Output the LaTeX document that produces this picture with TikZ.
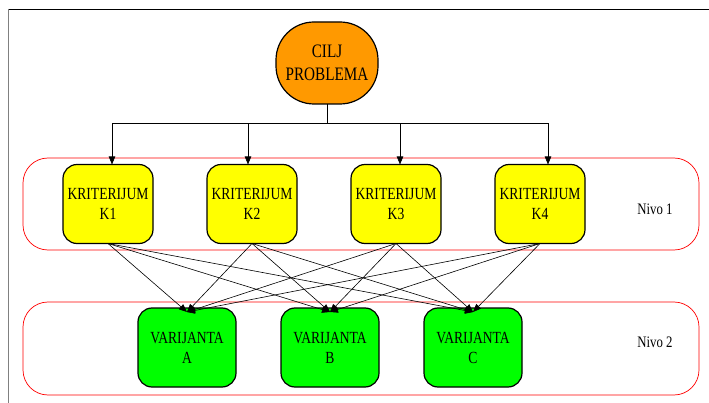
\documentclass[tikz,border=0pt]{standalone}
\usepackage{fontspec}
\setmainfont{Liberation Serif}[FakeStretch=0.8]
\usepackage{xcolor}
\usepackage{tikz}
\usetikzlibrary{positioning}
\usetikzlibrary{arrows.meta}
\definecolor{ciljorange}{HTML}{FF9900}
\definecolor{krityellow}{HTML}{FFFF00}
\definecolor{vargreen}{HTML}{00FF00}
\begin{document}
\begin{tikzpicture}[x=1pt,y=-1pt,outer sep=0pt,
  box/.style={draw, line width=1.2pt, align=center, rounded corners=14pt, inner sep=0pt,
    font=\fontsize{17}{20}\selectfont},
  krit/.style={box, fill=krityellow, minimum width=90pt, minimum height=79pt},
  var/.style={box, fill=vargreen, minimum width=98pt, minimum height=79pt},
  nivo/.style={draw=red, line width=0.7pt, rounded corners=25pt},
  arr/.style={-{Triangle[length=8pt,width=6.5pt]}, line width=0.6pt}]

\useasboundingbox (0,0) rectangle (709,403);

% frame
\draw[line width=0.8pt] (8,9) -- (709,9);
\draw[line width=1pt, gray] (8,9) -- (8,403);

% levels
\draw[nivo] (23,158) rectangle (699,250);
\draw[nivo] (23,302) rectangle (699,395);
\node (nivo1) at (655,209) {\fontsize{16}{19}\selectfont Nivo 1};
\node (nivo2) at (655,342) {\fontsize{16}{19}\selectfont Nivo 2};

% Goal
\node [box, fill=ciljorange, minimum width=102pt, minimum height=82pt, rounded corners=38pt,
  font=\fontsize{19}{23}\selectfont] (cilj) at (327,63) {CILJ\\PROBLEMA};

% Row 1
\node [krit] (k1) at (108,204) {KRITERIJUM\\K1};
\node [krit, right=54pt of k1] (k2) {KRITERIJUM\\K2};
\node [krit, right=54pt of k2] (k3) {KRITERIJUM\\K3};
\node [krit, right=54pt of k3] (k4) {KRITERIJUM\\K4};

% Row 2
\node [var] (va) at (187,347.5) {VARIJANTA\\A};
\node [var, right=45pt of va] (vb) {VARIJANTA\\B};
\node [var, right=45pt of vb] (vc) {VARIJANTA\\C};

% goal to criteria
\coordinate (bus) at (327,123);
\draw[line width=0.6pt] (cilj.south) -- (bus);
\foreach \k/\dx in {k1/4,k2/-4,k3/4,k4/8}
  \draw[arr] (bus) -| ([xshift=\dx pt]\k.north);

% criteria to variants
\foreach \k in {k1,k2,k3,k4}
  \foreach \v in {va,vb,vc}
    \draw[arr] (\k.south) -- ([yshift=-4pt]\v.north);

\end{tikzpicture}
\end{document}
